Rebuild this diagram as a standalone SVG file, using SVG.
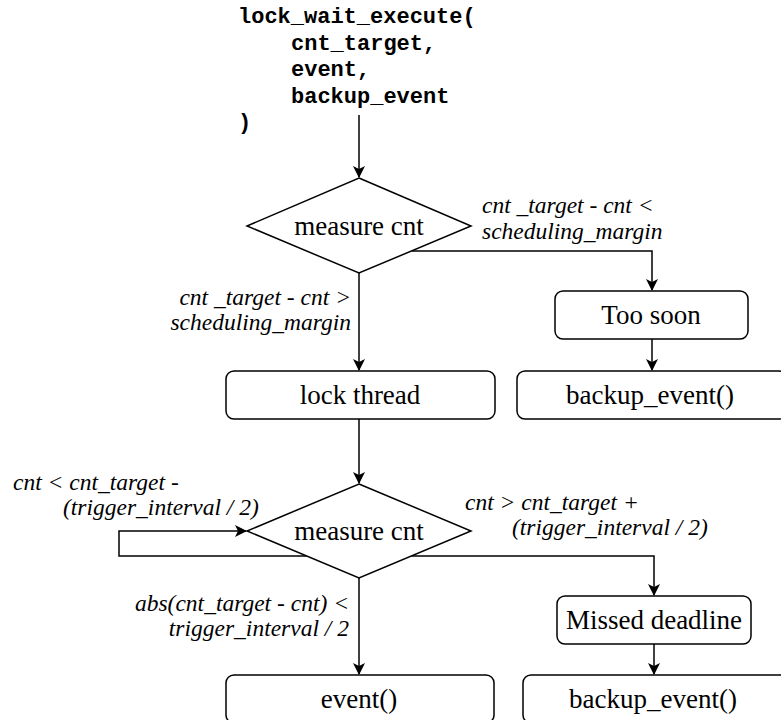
<svg xmlns="http://www.w3.org/2000/svg" width="781" height="720" viewBox="0 0 781 720">
<defs>
<style>
.code{font-family:"Liberation Mono","DejaVu Sans Mono",monospace;font-weight:bold;font-size:22px;fill:#000}
.node{fill:#fff;stroke:#000;stroke-width:1.5}
.nt{font-family:"Liberation Serif","DejaVu Serif",serif;font-size:27px;fill:#000;text-anchor:middle}
.lbl{font-family:"Liberation Serif","DejaVu Serif",serif;font-style:italic;font-size:23.5px;fill:#000}
.end{text-anchor:end}
.edge{fill:none;stroke:#000;stroke-width:1.5}
</style>
<marker id="arr" viewBox="0 0 12 12" refX="11" refY="6" markerWidth="12" markerHeight="12" markerUnits="userSpaceOnUse" orient="auto">
<path d="M0,0 L12,6 L0,12 L3,6 Z" fill="#000"/>
</marker>
</defs>
<rect width="781" height="720" fill="#fff"/>

<g id="start">
<text class="code" x="238" y="23">lock_wait_execute(</text>
<text class="code" x="291" y="49.5">cnt_target,</text>
<text class="code" x="291" y="76">event,</text>
<text class="code" x="291" y="102.5">backup_event</text>
<text class="code" x="238" y="129">)</text>
</g>

<g id="connectors">
<path class="edge" d="M359,115 V177" marker-end="url(#arr)"/>
<path class="edge" d="M411.6,251 H652 V290" marker-end="url(#arr)"/>
<path class="edge" d="M359,273 V370" marker-end="url(#arr)"/>
<path class="edge" d="M652,339 V370" marker-end="url(#arr)"/>
<path class="edge" d="M359,419 V483" marker-end="url(#arr)"/>
<path class="edge" d="M306.6,556 H119 V531 H246" marker-end="url(#arr)"/>
<path class="edge" d="M411.4,556 H654 V595" marker-end="url(#arr)"/>
<path class="edge" d="M359,578 V674" marker-end="url(#arr)"/>
<path class="edge" d="M654,644 V674" marker-end="url(#arr)"/>
<text class="lbl" x="482" y="213">cnt _target - cnt &lt;</text>
<text class="lbl" x="482" y="239">scheduling_margin</text>
<text class="lbl end" x="351" y="305">cnt _target - cnt &gt;</text>
<text class="lbl end" x="351" y="330">scheduling_margin</text>
<text class="lbl" x="13" y="490">cnt &lt; cnt_target -</text>
<text class="lbl" x="63" y="515">(trigger_interval / 2)</text>
<text class="lbl" x="465" y="510">cnt &gt; cnt_target +</text>
<text class="lbl" x="512" y="535">(trigger_interval / 2)</text>
<text class="lbl end" x="349" y="611">abs(cnt_target - cnt) &lt;</text>
<text class="lbl end" x="349" y="636">trigger_interval / 2</text>
</g>

<g id="measure1">
<polygon class="node" points="359,178 471,226 359,273 247,226"/>
<text class="nt" x="359" y="235">measure cnt</text>
</g>
<g id="too_soon">
<rect class="node" x="555" y="291" width="193" height="48" rx="8"/>
<text class="nt" x="651" y="324">Too soon</text>
</g>
<g id="lock_thread">
<rect class="node" x="226" y="371" width="269" height="48" rx="8"/>
<text class="nt" x="360" y="404">lock thread</text>
</g>
<g id="backup1">
<rect class="node" x="517" y="371" width="270" height="48" rx="8"/>
<text class="nt" x="650" y="404">backup_event()</text>
</g>
<g id="measure2">
<polygon class="node" points="359,484 471,531 359,578 247,531"/>
<text class="nt" x="359" y="540">measure cnt</text>
</g>
<g id="missed">
<rect class="node" x="557" y="596" width="194" height="48" rx="8"/>
<text class="nt" x="654" y="629">Missed deadline</text>
</g>
<g id="event">
<rect class="node" x="226" y="675" width="268" height="48" rx="8"/>
<text class="nt" x="359" y="708">event()</text>
</g>
<g id="backup2">
<rect class="node" x="523" y="675" width="270" height="48" rx="8"/>
<text class="nt" x="653" y="708">backup_event()</text>
</g>
</svg>
